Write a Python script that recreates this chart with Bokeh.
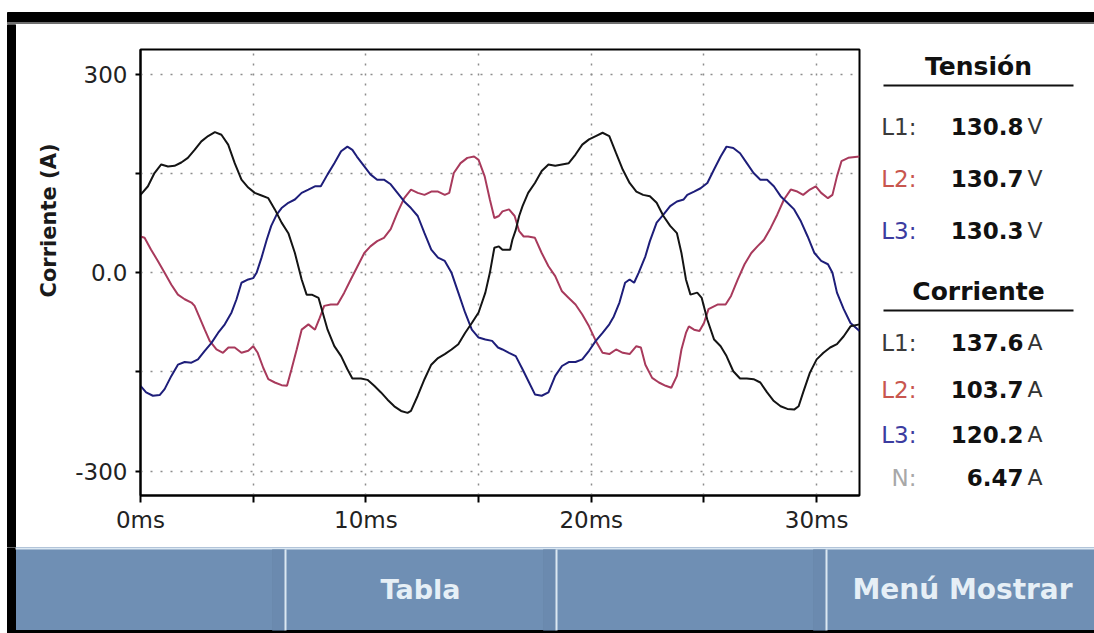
from bokeh.plotting import figure
from bokeh.layouts import row, column
from bokeh.models import Range1d, FixedTicker
from bokeh.core.properties import value
from bokeh.embed import file_html
from bokeh.resources import INLINE
import math

# ---------------- data ----------------
l1_t = [0, 0.33, 0.62, 0.92, 1.22, 1.51, 1.81, 2.1, 2.4, 2.7, 3.0, 3.3, 3.59, 3.89, 4.18, 4.48,
        4.78, 5.07, 5.37, 5.67, 5.96, 6.26, 6.56, 6.85, 7.15, 7.37, 7.6, 7.9, 8.3, 8.6, 8.9, 9.18,
        9.4, 9.78, 10.07, 10.37, 10.67, 10.96, 11.26, 11.56, 11.85, 12.0, 12.3, 12.6, 12.9, 13.2,
        13.5, 13.8, 14.1, 14.4, 14.7, 15.0, 15.3, 15.5, 15.7, 15.9, 16.06, 16.4, 16.5, 16.65, 16.8,
        16.95, 17.2, 17.5, 17.8, 18.1, 18.4, 18.7, 19.0, 19.3, 19.6, 19.9, 20.2, 20.5, 20.8, 21.1,
        21.4, 21.7, 22.0, 22.3, 22.6, 22.9, 23.2, 23.5, 23.8, 24.0, 24.2, 24.4, 24.7, 24.9, 25.15,
        25.45, 25.74, 26.0, 26.3, 26.6, 26.9, 27.2, 27.5, 27.8, 28.1, 28.4, 28.7, 29.0, 29.2, 29.4,
        29.7, 30.0, 30.3, 30.6, 30.9, 31.2, 31.5, 31.9]
l1_a = [118, 131, 151, 164, 161, 162, 167, 174, 186, 199, 207, 213, 209, 194, 166, 141,
        129, 121, 117, 113, 96, 76, 60, 30, -10, -33, -33, -38, -86, -111, -126, -146,
        -160, -160, -162, -171, -181, -192, -202, -209, -212, -209, -186, -161, -139, -129,
        -123, -116, -108, -91, -76, -60, -30, 0, 38, 40, 35, 35, 50, 65, 86,
        101, 121, 136, 154, 164, 162, 164, 166, 179, 194, 202, 207, 212, 207, 181,
        156, 136, 123, 118, 116, 106, 86, 71, 60, 30, -10, -33, -30, -38, -71,
        -101, -111, -126, -149, -160, -160, -161, -166, -181, -194, -202, -206, -207, -202, -181,
        -151, -131, -121, -113, -108, -96, -81, -78]

l2_t = [0, 0.18, 0.47, 0.77, 1.07, 1.37, 1.66, 1.96, 2.26, 2.4, 2.6, 2.85, 3.07, 3.37, 3.66, 3.9,
        4.18, 4.48, 4.78, 5.0, 5.2, 5.45, 5.67, 5.96, 6.26, 6.5, 6.7, 6.93, 7.15, 7.45, 7.74, 7.92,
        8.15, 8.44, 8.74, 9.04, 9.33, 9.63, 9.93, 10.2, 10.5, 10.8, 11.1, 11.4, 11.7, 12.0, 12.3,
        12.6, 12.9, 13.2, 13.5, 13.7, 13.9, 14.2, 14.5, 14.8, 15.0, 15.27, 15.5, 15.7, 15.9, 16.06,
        16.35, 16.6, 16.8, 17.0, 17.2, 17.5, 17.8, 18.1, 18.4, 18.7, 19.0, 19.3, 19.6, 19.9, 20.2,
        20.5, 20.8, 21.1, 21.4, 21.7, 22.0, 22.2, 22.4, 22.7, 23.0, 23.3, 23.55, 23.8, 24.0, 24.2,
        24.33, 24.56, 24.8, 25.0, 25.2, 25.6, 25.96, 26.2, 26.5, 26.8, 27.1, 27.37, 27.66, 27.96,
        28.25, 28.55, 28.85, 29.14, 29.4, 29.7, 29.96, 30.2, 30.5, 30.7, 30.9, 31.1, 31.4, 31.9]
l2_a = [55, 53, 35, 18, 0, -18, -33, -40, -45, -50, -66, -86, -103, -116, -121, -113,
        -113, -121, -118, -111, -121, -144, -161, -166, -170, -171, -146, -116, -86, -78, -86, -71,
        -50, -48, -48, -30, -10, 10, 30, 40, 48, 53, 66, 91, 113, 126, 121,
        118, 123, 123, 118, 121, 151, 166, 174, 176, 171, 146, 111, 83, 86, 93,
        96, 86, 63, 55, 55, 53, 30, 10, -5, -28, -38, -48, -63, -81, -103,
        -121, -123, -116, -121, -123, -111, -113, -139, -159, -166, -171, -174, -156, -116, -91,
        -81, -86, -88, -76, -55, -48, -48, -35, -10, 13, 30, 40, 50, 68,
        88, 111, 126, 123, 118, 126, 131, 121, 113, 118, 146, 169, 174, 176]

l3_t = [0, 0.25, 0.55, 0.85, 1.07, 1.37, 1.66, 1.96, 2.26, 2.55, 2.85, 3.15, 3.44, 3.74, 4.04, 4.26,
        4.48, 4.78, 5.0, 5.15, 5.37, 5.6, 5.8, 6.04, 6.26, 6.56, 6.85, 7.15, 7.45, 7.74, 8.0, 8.3,
        8.6, 8.9, 9.18, 9.4, 9.6, 9.93, 10.2, 10.5, 10.8, 11.1, 11.4, 11.7, 12.0, 12.3, 12.6, 12.9,
        13.2, 13.5, 13.8, 14.1, 14.4, 14.7, 15.0, 15.3, 15.6, 15.86, 16.06, 16.35, 16.65, 16.95,
        17.24, 17.5, 17.8, 18.1, 18.4, 18.7, 19.0, 19.3, 19.6, 19.9, 20.2, 20.5, 20.8, 21.0, 21.25,
        21.5, 21.7, 21.9, 22.1, 22.4, 22.6, 22.9, 23.2, 23.5, 23.8, 24.1, 24.26, 24.56, 24.85, 25.15,
        25.44, 25.74, 26.0, 26.3, 26.6, 26.9, 27.2, 27.5, 27.8, 28.1, 28.4, 28.7, 29.0, 29.3, 29.6,
        29.9, 30.2, 30.5, 30.7, 30.9, 31.2, 31.5, 31.9]
l3_a = [-171, -181, -186, -185, -176, -156, -139, -135, -136, -131, -118, -106, -91, -78, -60, -40,
        -15, -10, -8, 0, 23, 50, 71, 88, 98, 106, 111, 121, 126, 131, 131, 149,
        166, 184, 191, 186, 176, 161, 149, 141, 141, 134, 121, 108, 98, 86, 60, 35,
        23, 18, 0, -30, -60, -86, -98, -101, -103, -113, -116, -121, -126, -146,
        -166, -184, -186, -181, -156, -141, -135, -135, -131, -118, -103, -91, -78, -66, -45,
        -15, -10, -15, 0, 25, 48, 76, 88, 101, 108, 111, 118, 123, 128, 136,
        156, 176, 191, 189, 181, 166, 151, 141, 141, 131, 116, 106, 96, 78, 55,
        30, 18, 13, 0, -30, -55, -76, -88]

x_ticks = [0, 5, 10, 15, 20, 25, 30]
x_tick_labels = {0: "0ms", 5: "", 10: "10ms", 15: "", 20: "20ms", 25: "", 30: "30ms"}
y_ticks = [-300, -150, 0, 150, 300]
y_tick_labels = {-300: "-300", -150: "", 0: "0.0", 150: "", 300: "300"}
y_title = "Corriente (A)"

volt_title = "Tensión"
volt_labels = ["L1:", "L2:", "L3:"]
volt_values = ["130.8", "130.7", "130.3"]
volt_unit = "V"
curr_title = "Corriente"
curr_labels = ["L1:", "L2:", "L3:", "N:"]
curr_values = ["137.6", "103.7", "120.2", "6.47"]
curr_unit = "A"
menu_labels = ["Tabla", "Menú Mostrar"]

# ---------------- style ----------------
FONT = "DejaVu Sans"
C_L1 = "#141414"
C_L2 = "#a83a5c"
C_L3 = "#1e1e7a"
LBL_COLORS = ["#3a3a3a", "#c8564e", "#3c3ca0", "#a8a8a8"]
MENU_BG = "#6f8fb4"
MENU_FG = "#e6eff6"


def deco(w, h, x0, x1, ytop, ybot):
    f = figure(width=w, height=h, x_range=Range1d(x0, x1), y_range=Range1d(ybot, ytop),
               toolbar_location=None, output_backend="svg", x_axis_location=None,
               y_axis_location=None, min_border=0, min_border_left=0, min_border_right=0,
               min_border_top=0, min_border_bottom=0)
    f.frame_align = False
    f.outline_line_color = None
    f.background_fill_color = "white"
    f.border_fill_color = "white"
    f.grid.visible = False
    return f


W = 1094
# top black bar (page y 0..24)
top = deco(W, 24, 0, W, 0, 24)
top.quad(left=7, right=W, top=12, bottom=22, color="black")
top.quad(left=7, right=W, top=22, bottom=24, color="#6e6e6e")

# left strip with y-axis title (page x 0..70, y 24..547)
left = deco(70, 523, 0, 70, 24, 547)
left.quad(left=7, right=15, top=24, bottom=547, color="black")
left.text(x=[48], y=[220], text=[y_title], angle=math.pi / 2, text_font=value(FONT),
          text_font_size="21px", text_font_style="bold", text_align="center",
          text_baseline="middle", text_color="#1a1a1a")

# chart (page x 70..861, frame 140..859 x 49..495)
p = figure(width=791, height=523, x_range=Range1d(0, 31.9), y_range=Range1d(-337, 338),
           toolbar_location=None, output_backend="svg",
           min_border_left=70, min_border_right=2, min_border_top=25, min_border_bottom=52)
p.frame_align = False
p.background_fill_color = "white"
p.border_fill_color = "white"
p.outline_line_color = "black"
p.outline_line_width = 2
p.outline_line_alpha = 1

p.line(l2_t, l2_a, line_color=C_L2, line_width=2)
p.line(l3_t, l3_a, line_color=C_L3, line_width=2)
p.line(l1_t, l1_a, line_color=C_L1, line_width=2)

p.xaxis.ticker = FixedTicker(ticks=x_ticks)
p.xaxis.major_label_overrides = x_tick_labels
p.yaxis.ticker = FixedTicker(ticks=y_ticks)
p.yaxis.major_label_overrides = y_tick_labels
for ax in (p.xaxis[0], p.yaxis[0]):
    ax.axis_line_color = "black"
    ax.axis_line_width = 2
    ax.major_tick_line_color = "black"
    ax.major_tick_line_width = 2
    ax.major_tick_in = 0
    ax.minor_tick_line_color = None
    ax.major_label_text_font = FONT
    ax.major_label_text_font_size = "23px"
    ax.major_label_text_color = "#222222"
    ax.major_label_text_font_style = "normal"
p.xaxis.major_tick_out = 7
p.xaxis.major_label_standoff = 4
p.yaxis.major_tick_out = 5
p.yaxis.major_label_standoff = 8
p.grid.grid_line_color = "#8c8c8c"
p.grid.grid_line_dash = "2 8"
p.grid.grid_line_width = 1.5

# right panel (page x 861..1094)
panel = deco(233, 523, 861, W, 24, 547)
panel.text(x=[978, 978], y=[66, 291], text=[volt_title, curr_title], text_font=value(FONT),
           text_font_size="25px", text_font_style="bold", text_align="center",
           text_baseline="middle", text_color="#111111")
panel.segment(x0=[883, 883], y0=[85, 310], x1=[1073, 1073], y1=[85, 310],
              line_color="#111111", line_width=2)
vy = [126, 178, 230]
cy = [342, 389, 434, 477]
panel.text(x=[916] * 3, y=vy, text=volt_labels, text_font=value(FONT), text_font_size="23px",
           text_align="right", text_baseline="middle", text_color=LBL_COLORS[:3])
panel.text(x=[916] * 4, y=cy, text=curr_labels, text_font=value(FONT), text_font_size="23px",
           text_align="right", text_baseline="middle", text_color=LBL_COLORS)
panel.text(x=[1023] * 3, y=vy, text=volt_values, text_font=value(FONT), text_font_size="23px",
           text_font_style="bold", text_align="right", text_baseline="middle", text_color="#111111")
panel.text(x=[1023] * 4, y=cy, text=curr_values, text_font=value(FONT), text_font_size="23px",
           text_font_style="bold", text_align="right", text_baseline="middle", text_color="#111111")
panel.text(x=[1027] * 3, y=vy, text=[volt_unit] * 3, text_font=value(FONT), text_font_size="22px",
           text_align="left", text_baseline="middle", text_color="#333333")
panel.text(x=[1027] * 4, y=cy, text=[curr_unit] * 4, text_font=value(FONT), text_font_size="22px",
           text_align="left", text_baseline="middle", text_color="#333333")

# bottom menu (page y 547..633)
menu = deco(W, 86, 0, W, 547, 633)
menu.quad(left=15, right=W, top=547, bottom=630, color=MENU_BG)
menu.quad(left=7, right=15, top=547, bottom=633, color="black")
menu.quad(left=7, right=W, top=630, bottom=633, color="black")
menu.segment(x0=[15], y0=[548], x1=[W], y1=[548], line_color="#dbe8f2", line_width=2)
menu.quad(left=[272, 543, 813], right=[284, 555, 825], top=549, bottom=630, color="#6684a9", alpha=0.45)
menu.segment(x0=[285, 556, 826], y0=[549] * 3, x1=[285, 556, 826], y1=[630] * 3,
             line_color="#dbe8f2", line_width=2)
menu.text(x=[420], y=[589], text=menu_labels[:1], text_font=value(FONT),
          text_font_size="27px", text_font_style="bold", text_align="center",
          text_baseline="middle", text_color=MENU_FG)
menu.text(x=[962], y=[589], text=menu_labels[1:], text_font=value(FONT),
          text_font_size="28px", text_font_style="bold", text_align="center",
          text_baseline="middle", text_color=MENU_FG)

layout = column(top, row(left, p, panel), menu)
open("out.html", "w").write(file_html(layout, INLINE))
